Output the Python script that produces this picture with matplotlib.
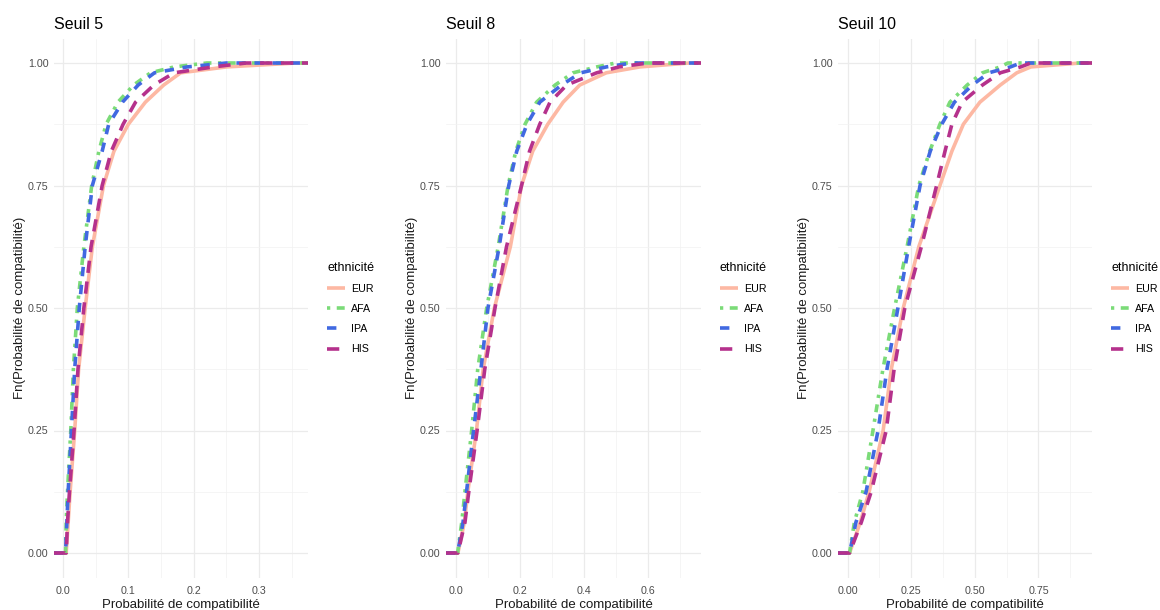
import matplotlib
matplotlib.use("Agg")
import matplotlib.pyplot as plt
from matplotlib.ticker import MultipleLocator, FormatStrFormatter
import numpy as np

plt.rcParams['font.family'] = ['Liberation Sans', 'DejaVu Sans']

levels = [0, 0.0625, 0.125, 0.25, 0.375, 0.5, 0.625, 0.75, 0.82, 0.875, 0.92, 0.955, 0.98, 0.992, 1.0]

groups = ["EUR", "AFA", "IPA", "HIS"]
titles = ["Seuil 5", "Seuil 8", "Seuil 10"]

# Seuil 5
s5_EUR = [0.005, 0.008, 0.011, 0.018, 0.024, 0.034, 0.045, 0.062, 0.078, 0.100, 0.126, 0.154, 0.18, 0.25, 0.357]
s5_AFA = [0.004, 0.005, 0.007, 0.012, 0.016, 0.022, 0.032, 0.044, 0.055, 0.066, 0.084, 0.108, 0.134, 0.17, 0.22]
s5_IPA = [0.004, 0.006, 0.008, 0.013, 0.018, 0.025, 0.034, 0.045, 0.060, 0.070, 0.091, 0.115, 0.14, 0.19, 0.25]
s5_HIS = [0.005, 0.007, 0.010, 0.017, 0.023, 0.032, 0.043, 0.060, 0.074, 0.092, 0.111, 0.139, 0.17, 0.23, 0.28]

# Seuil 8
s8_EUR = [0.006, 0.026, 0.037, 0.064, 0.085, 0.120, 0.170, 0.205, 0.24, 0.287, 0.335, 0.387, 0.47, 0.575, 0.73]
s8_AFA = [0.005, 0.018, 0.028, 0.049, 0.068, 0.096, 0.132, 0.163, 0.187, 0.216, 0.252, 0.31, 0.366, 0.44, 0.50]
s8_IPA = [0.005, 0.022, 0.033, 0.055, 0.078, 0.100, 0.135, 0.165, 0.19, 0.222, 0.262, 0.33, 0.39, 0.47, 0.55]
s8_HIS = [0.006, 0.028, 0.040, 0.066, 0.090, 0.122, 0.158, 0.205, 0.23, 0.262, 0.294, 0.346, 0.44, 0.51, 0.60]

# Seuil 10
s10_EUR = [0.008, 0.050, 0.085, 0.140, 0.172, 0.219, 0.280, 0.363, 0.41, 0.455, 0.52, 0.60, 0.665, 0.72, 0.915]
s10_AFA = [0.008, 0.027, 0.060, 0.100, 0.139, 0.185, 0.234, 0.280, 0.323, 0.363, 0.402, 0.47, 0.53, 0.60, 0.63]
s10_IPA = [0.008, 0.033, 0.073, 0.120, 0.155, 0.198, 0.240, 0.285, 0.325, 0.370, 0.42, 0.49, 0.555, 0.64, 0.68]
s10_HIS = [0.008, 0.054, 0.093, 0.152, 0.183, 0.225, 0.290, 0.350, 0.383, 0.410, 0.45, 0.53, 0.60, 0.68, 0.72]

panels = [
    {"EUR": s5_EUR, "AFA": s5_AFA, "IPA": s5_IPA, "HIS": s5_HIS},
    {"EUR": s8_EUR, "AFA": s8_AFA, "IPA": s8_IPA, "HIS": s8_HIS},
    {"EUR": s10_EUR, "AFA": s10_AFA, "IPA": s10_IPA, "HIS": s10_HIS},
]
major_steps = [0.1, 0.2, 0.25]
fmts = ["%.1f", "%.1f", "%.2f"]

colors = {"EUR": "#FDB8A3", "AFA": "#7BDB78", "IPA": "#4169E1", "HIS": "#B5318C"}
styles = {"EUR": "-", "AFA": (0, (0.9, 1.8, 2.2, 1.8)), "IPA": (0, (2.6, 2.4)), "HIS": (0, (3.4, 2.4))}

W, H = 1160, 610
fig = plt.figure(figsize=(W / 100, H / 100), dpi=100)

ax_px = [(54, 308), (446, 701), (838, 1092)]
top_px, bot_px = 38.5, 577.5

for i, (data, title) in enumerate(zip(panels, titles)):
    l, r = ax_px[i]
    ax = fig.add_axes([l / W, 1 - bot_px / H, (r - l) / W, (bot_px - top_px) / H])
    allx = np.concatenate([np.asarray(data[g]) for g in groups])
    lo, hi = allx.min(), allx.max()
    pad = 0.05 * (hi - lo)
    xlo, xhi = lo - pad, hi + pad
    for g in groups:
        xs = [xlo] + list(data[g]) + [xhi]
        ys = [0] + list(levels) + [1]
        ax.plot(xs, ys, color=colors[g], linestyle=styles[g], lw=2.6,
                label=g, solid_capstyle='butt', dash_capstyle='butt')
    ax.set_xlim(xlo, xhi)
    ax.set_ylim(-0.05, 1.05)
    ax.xaxis.set_major_locator(MultipleLocator(major_steps[i]))
    ax.xaxis.set_minor_locator(MultipleLocator(major_steps[i] / 2))
    ax.xaxis.set_major_formatter(FormatStrFormatter(fmts[i]))
    ax.yaxis.set_major_locator(MultipleLocator(0.25))
    ax.yaxis.set_minor_locator(MultipleLocator(0.125))
    ax.yaxis.set_major_formatter(FormatStrFormatter("%.2f"))
    ax.grid(which='major', color='#EBEBEB', lw=0.9)
    ax.grid(which='minor', color='#F2F2F2', lw=0.5)
    ax.set_axisbelow(True)
    for s in ax.spines.values():
        s.set_visible(False)
    ax.tick_params(which='both', length=0, labelsize=7.7, labelcolor='#4D4D4D')
    ax.tick_params(axis='x', pad=6)
    ax.tick_params(axis='y', pad=4)
    ax.set_xlabel("Probabilité de compatibilité", fontsize=9.5, color='#1A1A1A', labelpad=2.5)
    ax.set_ylabel("Fn(Probabilité de compatibilité)", fontsize=9.5, color='#1A1A1A', labelpad=1)
    ax.set_title(title, loc='left', fontsize=11.5, color='black', pad=7)
    wpx = r - l
    leg = ax.legend(title="ethnicité", loc='center left', bbox_to_anchor=(1 + 19 / wpx, 0.5),
                    frameon=False, fontsize=7.7, title_fontsize=9, handlelength=1.7,
                    handletextpad=0.55, labelspacing=0.95, alignment='left',
                    borderpad=0, borderaxespad=0)

fig.savefig("out.png", dpi=100)
